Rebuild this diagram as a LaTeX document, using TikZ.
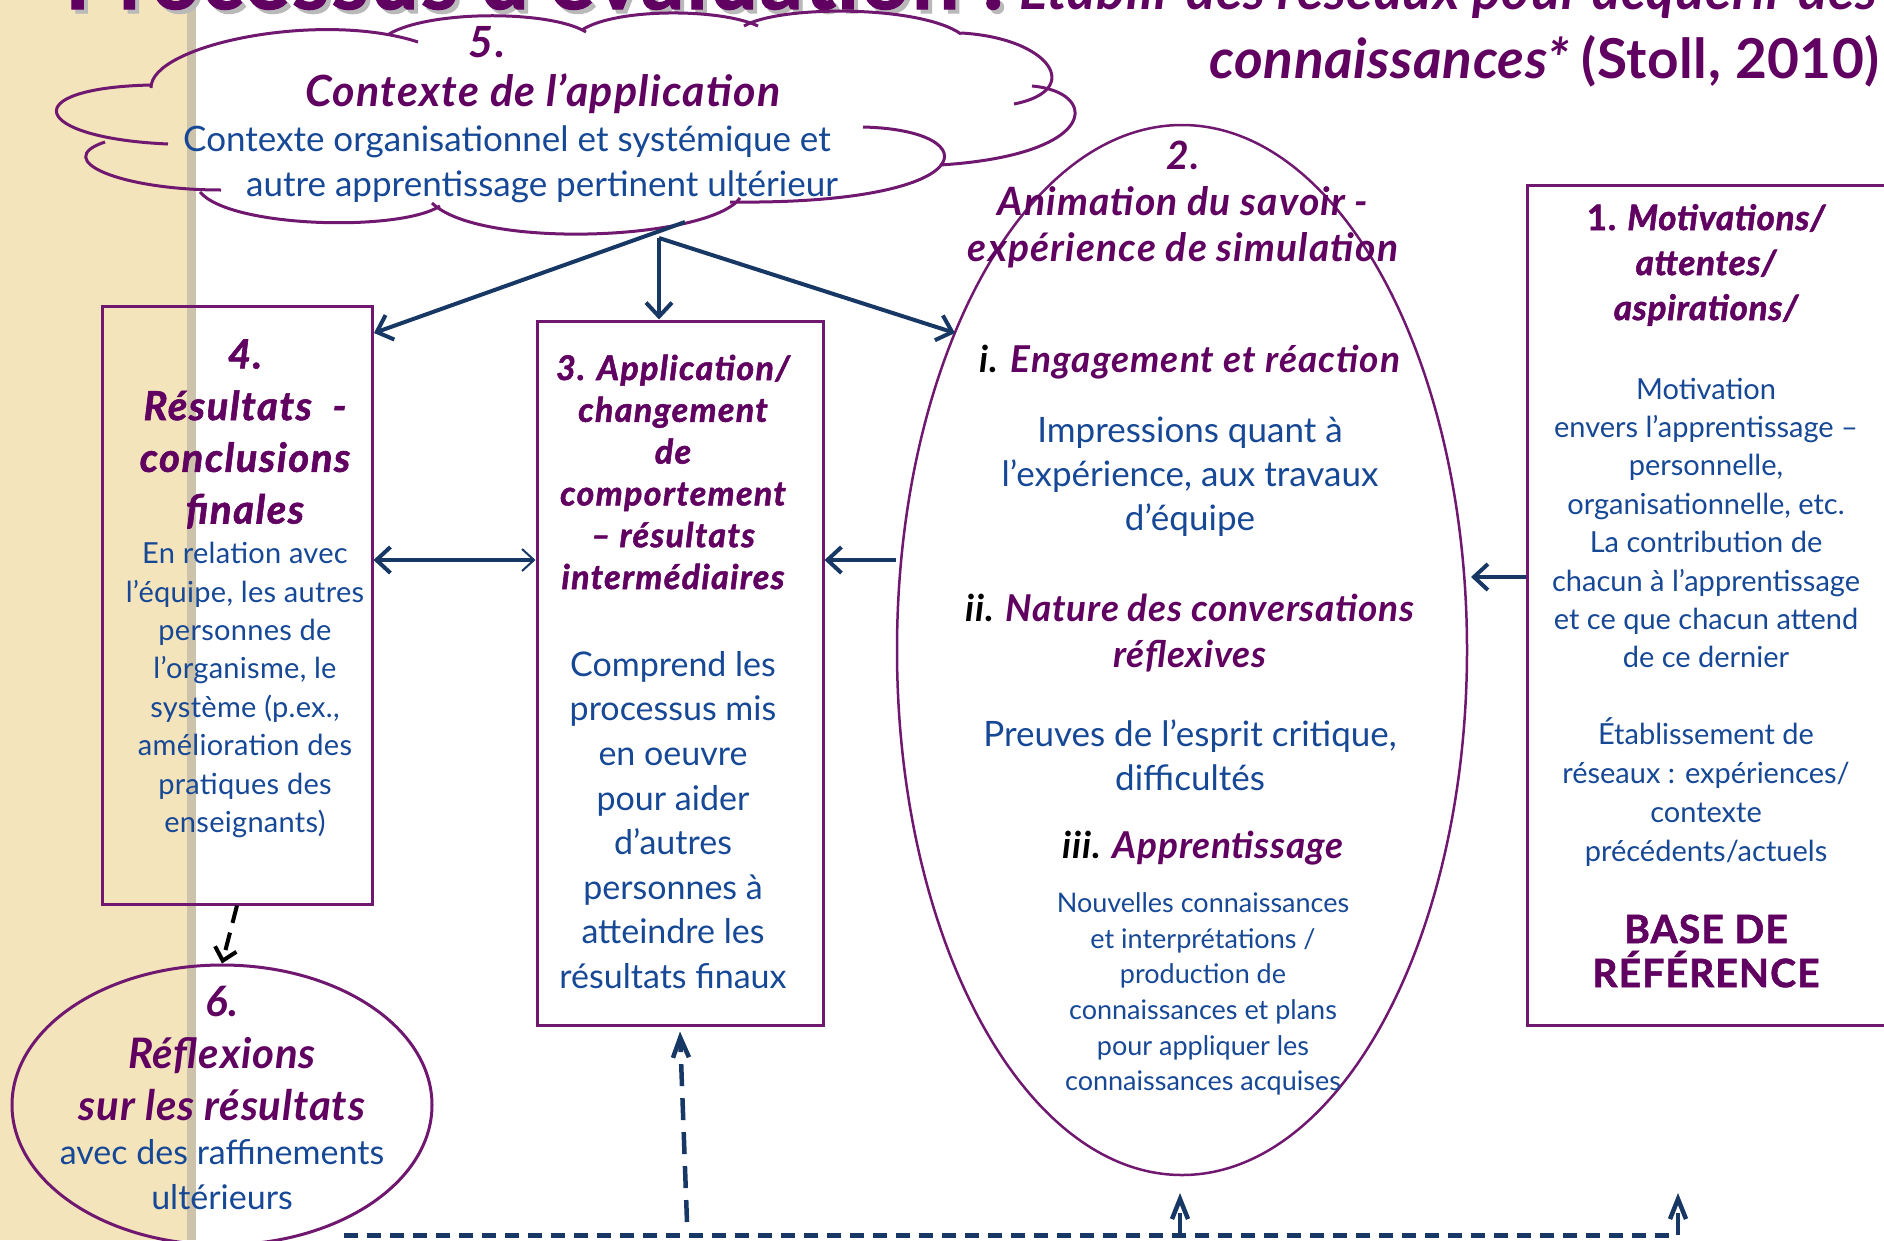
\documentclass[tikz,border=0pt]{standalone}
\usepackage{fontspec}
\setmainfont{Lato}
\usetikzlibrary{arrows.meta,shapes.geometric}
\definecolor{ptxt}{RGB}{96,0,96}
\definecolor{pline}{RGB}{112,24,112}
\definecolor{btxt}{RGB}{22,72,150}
\definecolor{navy}{RGB}{23,55,100}
\definecolor{beige}{RGB}{243,228,188}
\definecolor{stripc}{RGB}{205,195,170}
\newcommand\myfs[2]{\fontsize{#1}{#2}\selectfont}
\newcommand\ls[1]{\addfontfeatures{LetterSpace=#1}}
\newcommand\lsb[1]{\addfontfeatures{LetterSpace=#1,FakeBold=1.5}}
\begin{document}
\begin{tikzpicture}[x=1pt,y=-1pt,
  hd/.style={text=ptxt, align=center, inner sep=0pt},
  bd/.style={text=btxt, align=center, inner sep=0pt},
  frame/.style={draw=pline, line width=3pt, inner sep=0pt},
  bump/.style={draw=pline, line width=3pt},
  conn/.style={draw=navy, line width=4pt, -{Straight Barb[length=14pt,width=26pt]}},
  fbline/.style={draw=navy, line width=5pt, dash pattern=on 14pt off 9pt},
  fbarrow/.style={draw=navy, line width=4.5pt, dash pattern=on 22pt off 12pt, -{Straight Barb[length=20pt,width=16pt]}},
  blk/.style={draw=black, line width=4pt, dash pattern=on 18pt off 10pt, -{Straight Barb[length=12pt,width=22pt]}},
]
\useasboundingbox (0,0) rectangle (1884,1240);
\fill[white] (0,0) rectangle (1884,1240);
\fill[beige] (0,0) rectangle (187,1240);
\fill[stripc] (187,0) rectangle (196,1240);

% title
\node[anchor=base west, text=gray!55, font=\myfs{84}{84}\bfseries\lsb{3}, inner sep=0pt] (tsh) at (69,13) {Processus d’évaluation :};
\node[anchor=base west, text=ptxt, font=\myfs{84}{84}\bfseries\lsb{3}, inner sep=0pt] (ttl1) at (65,9) {Processus d’évaluation :};
\node[anchor=base west, text=ptxt, font=\myfs{54}{54}\bfseries\itshape\ls{1.5}, inner sep=0pt] (ttl1b) at (1019,9) {Établir des réseaux pour acquérir des};
\node[anchor=base east, text=ptxt, font=\myfs{55}{55}\bfseries\ls{1}, inner sep=0pt] (ttl2) at (1880,78) {\itshape connaissances* \upshape(Stoll, 2010)};

% cloud 5
\draw[bump] (151,88) .. controls (150,45) and (320,10) .. (418,42);
\draw[bump] (389,34) .. controls (430,10) and (550,10) .. (586,32);
\draw[bump] (582,30) .. controls (615,8) and (720,8) .. (758,26);
\draw[bump] (744,26) .. controls (780,5) and (920,5) .. (961,34);
\draw[bump] (961,33) .. controls (1050,38) and (1085,90) .. (1014,104);
\draw[bump] (1032,86) .. controls (1100,92) and (1100,155) .. (940,165);
\draw[bump] (863,127) .. controls (990,130) and (985,205) .. (730,202);
\draw[bump] (740,198) .. controls (710,240) and (480,250) .. (432,203);
\draw[bump] (440,206) .. controls (400,232) and (230,228) .. (200,192);
\draw[bump] (221,190) .. controls (120,190) and (50,160) .. (105,142);
\draw[bump] (168,144) .. controls (30,138) and (15,88) .. (151,85);

% shapes
\node[frame, minimum width=270pt, minimum height=598pt] (box4) at (237,605) {};
\node[frame, minimum width=286pt, minimum height=704pt] (box3) at (680,673) {};
\node[draw=pline, line width=2.5pt, ellipse, minimum width=570pt, minimum height=1050pt, inner sep=0pt] (el2) at (1182,650) {};
\node[frame, minimum width=368pt, minimum height=840pt] (box1) at (1711,605) {};
\node[draw=pline, line width=3pt, ellipse, minimum width=420pt, minimum height=280pt, inner sep=0pt] (el6) at (222,1105) {};

% texts: cloud
\node[hd, font=\myfs{43}{52}\bfseries\itshape\ls{3}] (t5n) at (487,42) {5.};
\node[hd, font=\myfs{43}{52}\bfseries\itshape\ls{3}] (t5h) at (543,94) {Contexte de l’application};
\node[bd, font=\myfs{35}{45}] (t5a) at (507,142) {Contexte organisationnel et systémique et};
\node[bd, font=\myfs{35}{45}] (t5b) at (542,187) {autre apprentissage pertinent ultérieur};

% box 4
\node[hd, font=\myfs{40}{51.7}\bfseries\itshape\lsb{4}] (t4h) at (245,434) {4.\\Résultats~~-\\conclusions\\finales};
\node[bd, font=\myfs{29}{38.4}\ls{1}] (t4b) at (245,690) {En relation avec\\l’équipe, les autres\\personnes de\\l’organisme, le\\système (p.ex.,\\amélioration des\\pratiques des\\enseignants)};

% box 3
\node[hd, font=\myfs{34}{41.8}\bfseries\itshape\lsb{4}] (t3h) at (673,472) {3. Application/\\changement\\de\\comportement\\– résultats\\intermédiaires};
\node[bd, font=\myfs{34}{44.6}] (t3b) at (673,820) {Comprend les\\processus mis\\en oeuvre\\pour aider\\d’autres\\personnes à\\atteindre les\\résultats finaux};

% ellipse 2
\node[hd, font=\myfs{39}{46}\bfseries\itshape\ls{3}] (t2h) at (1183,205) {2.\\Animation du savoir -\\expérience de simulation};
\node[hd, font=\myfs{37}{44}\bfseries\itshape\ls{3}] (t2i) at (1190,362) {\textcolor{black}{i.} Engagement et réaction};
\node[bd, font=\myfs{35}{44}] (t2ib) at (1190,477) {Impressions quant à\\l’expérience, aux travaux\\d’équipe};
\node[hd, font=\myfs{37}{46}\bfseries\itshape\ls{2}] (t2ii) at (1190,633) {\textcolor{black}{ii.} Nature des conversations\\réflexives};
\node[bd, font=\myfs{35}{44}] (t2iib) at (1190,755) {Preuves de l’esprit critique,\\difficultés};
\node[hd, font=\myfs{37}{44}\bfseries\itshape\ls{2}] (t2iii) at (1203,848) {\textcolor{black}{iii.} Apprentissage};
\node[bd, font=\myfs{27}{35.6}] (t2iiib) at (1203,994) {Nouvelles connaissances\\et interprétations /\\production de\\connaissances et plans\\pour appliquer les\\connaissances acquises};

% box 1
\node[hd, font=\myfs{35}{45}\bfseries\itshape\lsb{2}] (t1h) at (1706,265) {{\upshape 1.} Motivations/\\attentes/\\aspirations/};
\node[bd, font=\myfs{29}{38.4}] (t1b) at (1706,523) {Motivation\\envers l’apprentissage –\\personnelle,\\organisationnelle, etc.\\La contribution de\\chacun à l’apprentissage\\et ce que chacun attend\\de ce dernier};
\node[bd, font=\myfs{29}{38.7}] (t1c) at (1706,792) {Établissement de\\réseaux : expériences/\\contexte\\précédents/actuels};
\node[hd, font=\myfs{39}{44}\bfseries\lsb{3}] (t1d) at (1706,951) {BASE DE\\RÉFÉRENCE};

% ellipse 6
\node[hd, font=\myfs{42}{52}\bfseries\itshape\ls{2}] (t6h) at (222,1053) {6.\\Réflexions\\sur les résultats};
\node[bd, font=\myfs{34}{45}] (t6b) at (222,1175) {avec des raffinements\\ultérieurs};

% connectors
\coordinate (c5a) at (685,222);
\coordinate (c5b) at (659,238);
\coordinate (b4in) at (374,333);
\coordinate (e2in) at (955,333);
\coordinate (e2r) at (1471,577);
\draw[conn] (c5a) -- (b4in);
\draw[conn] (c5b) -- (c5b |- box3.north);
\draw[conn] (c5b) -- (e2in);
\draw[draw=navy, line width=4pt, {Straight Barb[length=14pt,width=26pt]}-{Straight Barb[length=12pt,width=22pt,line width=2pt]}] (box4.east |- 0,560) -- (box3.west |- 0,560);
\draw[conn] (el2.west |- 0,560) -- (box3.east |- 0,560);
\draw[conn] (box1.west |- 0,577) -- (e2r);
\draw[blk] (box4.south) -- (el6.north);

\coordinate (fbL) at (344,1235);
\coordinate (fbR) at (1678,1235);
\coordinate (fb3) at (687,1222);
\coordinate (fbE) at (1180,1235);
\coordinate (e2b) at (1180,1193);
\coordinate (fbB) at (1678,1193);
\draw[fbline] (fbL) -- (fbR);
\draw[fbarrow] (fb3) -- ([yshift=-5pt]box3.south);
\draw[fbarrow] (fbE) -- (e2b);
\draw[fbarrow] (fbR) -- (fbB);
\end{tikzpicture}
\end{document}
